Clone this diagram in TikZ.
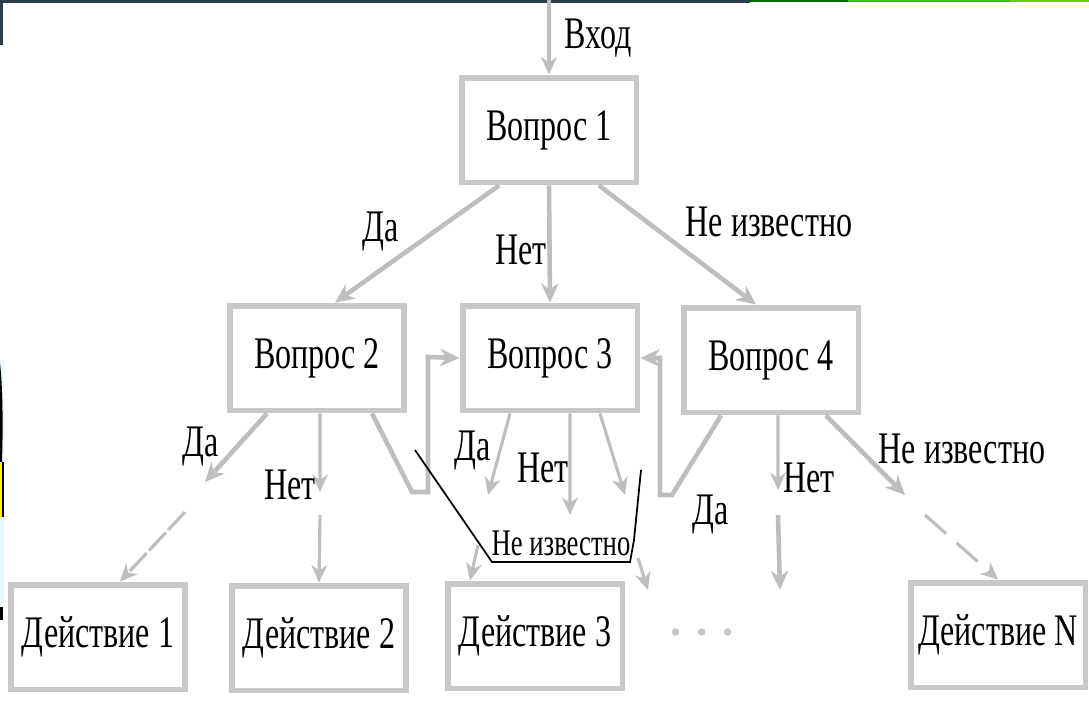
\documentclass[tikz,border=0pt]{standalone}
\usepackage{fontspec}
\usepackage{graphicx}
\setmainfont{Liberation Serif}
\usetikzlibrary{arrows.meta}
\definecolor{boxgray}{HTML}{C8C8C8}
\definecolor{arrgray}{HTML}{BEBEBE}
\definecolor{topdark}{HTML}{2B3D48}
\newcommand{\sq}[1]{\scalebox{0.71}[1]{#1}}
\begin{document}
\begin{tikzpicture}[x=0.02cm, y=-0.02cm,
    qbox/.style={rectangle, draw=boxgray, line width=3.4pt, fill=white,
        minimum width=3.5cm, minimum height=2.1cm,
        font=\fontsize{25.7}{30}\selectfont},
    lbl/.style={inner sep=0pt, font=\fontsize{25.7}{30}\selectfont},
    arr/.style={-{Stealth[length=11pt, width=10pt]}, draw=arrgray, line width=2.6pt},
    thinarr/.style={-{Stealth[length=10pt, width=9pt]}, draw=arrgray, line width=1.8pt}
]
    \useasboundingbox (0,0) rectangle (1089,707);
    \fill[white] (0,0) rectangle (1089,707);

    \fill[topdark] (0,0) rectangle (750,3);
    \fill[topdark] (0,0) rectangle (3,45);
    \fill[green!40!black] (750,0) rectangle (848,2);
    \fill[green!55!olive] (848,0) rectangle (1010,2);
    \fill[green!45!yellow!80!black] (1010,0) rectangle (1089,2);
    \fill[cyan!8] (0,360) rectangle (4,605);
    \fill[black] (0,363) .. controls (3,390) and (3,430) .. (2,462) -- (0,462) -- cycle;
    \fill[yellow] (0,463) rectangle (3,517);
    \draw[black, line width=1pt] (3,462) -- (3,517);
    \fill[black] (0,607) rectangle (3,620);

    \node[qbox] at (549,130) (q1) {\sq{Вопрос 1}};
    \node[qbox] at (317,358) (q2) {\sq{Вопрос 2}};
    \node[qbox] at (550,358) (q3) {\sq{Вопрос 3}};
    \node[qbox] at (771,360) (q4) {\sq{Вопрос 4}};
    \node[qbox] at (98,637) (a1) {\sq{Действие 1}};
    \node[qbox] at (319,638) (a2) {\sq{Действие 2}};
    \node[qbox] at (535,636) (a3) {\sq{Действие 3}};
    \node[qbox] at (998,635) (aN) {\sq{Действие N}};
    \node[text=boxgray, font=\fontsize{25.7}{30}\bfseries] at (702,632) (dots) {. . .};

    \coordinate (in) at (549,0);
    \draw[thinarr] (in) -- (q1.north);
    \node[lbl] at (598,38) (tin) {\sq{Вход}};

    \draw[arr] ([xshift=-1cm]q1.south) -- ([xshift=0.36cm]q2.north);
    \draw[arr] (q1.south) -- (q3.north);
    \draw[arr] ([xshift=1cm]q1.south) -- ([xshift=-0.3cm]q4.north);
    \node[lbl] at (381,232) (t1a) {\sq{Да}};
    \node[lbl] at (521,250) (t1b) {\sq{Нет}};
    \node[lbl] at (769,222) (t1c) {\sq{Не известно}};

    \coordinate (d2a) at (205,482);
    \coordinate (d2b) at (185,512);
    \coordinate (n2a) at (320,492);
    \coordinate (n2b) at (320,515);
    \draw[arr] ([xshift=-1cm]q2.south) -- (d2a);
    \draw[thinarr, dash pattern=on 14pt off 2pt] (d2b) -- ([xshift=0.44cm]a1.north);
    \draw[thinarr] ([xshift=0.06cm]q2.south) -- (n2a);
    \draw[thinarr] (n2b) -- (a2.north);
    \draw[arr] ([xshift=1.1cm]q2.south) -- (412,492) -- (428,492) -- (428,357) -- (q3.west);
    \node[lbl] at (201,447) (t2a) {\sq{Да}};
    \node[lbl] at (290,485) (t2b) {\sq{Нет}};

    \coordinate (d3a) at (488,495);
    \coordinate (d3b) at (478,545);
    \coordinate (n3a) at (570,515);
    \coordinate (u3a) at (625,495);
    \coordinate (u3b) at (638,558);
    \coordinate (u3c) at (648,590);
    \draw[thinarr] ([xshift=-0.8cm]q3.south) -- (d3a);
    \draw[thinarr] (d3b) -- ([xshift=-1.3cm]a3.north);
    \draw[thinarr] ([xshift=0.4cm]q3.south) -- (n3a);
    \draw[thinarr] ([xshift=1cm]q3.south) -- (u3a);
    \draw[thinarr] (u3b) -- (u3c);
    \node[lbl] at (473,451) (t3a) {\sq{Да}};
    \node[lbl] at (543,468) (t3b) {\sq{Нет}};

    \coordinate (n4a) at (778,490);
    \coordinate (n4b) at (778,515);
    \coordinate (n4c) at (780,590);
    \coordinate (u4a) at (905,495);
    \coordinate (u4b) at (925,515);
    \draw[arr] ([xshift=-1cm]q4.south) -- (672,495) -- (660,495) -- (660,358) -- (q3.east);
    \draw[thinarr] ([xshift=0.14cm]q4.south) -- (n4a);
    \draw[arr] (n4b) -- (n4c);
    \draw[arr] ([xshift=1.1cm]q4.south) -- (u4a);
    \draw[thinarr, dash pattern=on 16pt off 8pt] (u4b) -- (aN.north);
    \node[lbl] at (711,515) (t4a) {\sq{Да}};
    \node[lbl] at (809,478) (t4b) {\sq{Нет}};
    \node[lbl] at (962,449) (t4c) {\sq{Не известно}};

    \node[lbl, font=\fontsize{21.4}{25}\selectfont] at (561,543) (note) {\sq{Не известно}};
    \coordinate (c1) at (415,450);
    \coordinate (c2) at (641,470);
    \draw[black, line width=1pt] (c1) -- (492,562) -- (630,562) -- (634,540) -- (c2);
\end{tikzpicture}
\end{document}
